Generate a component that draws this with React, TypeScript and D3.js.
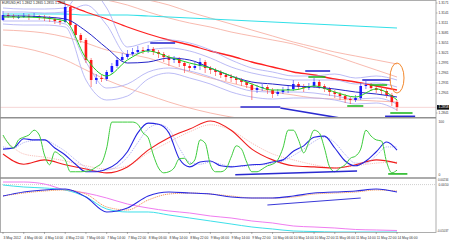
import * as d3 from "d3";

// ---------- data (EURUSD, 2-hour bars, 3 May - 14 May 2012) ----------
const TITLE = "EURUSD,H1  1.2862 1.2865 1.2855 1.2858";
const TIME_LABELS = [
  "3 May 2012", "4 May 06:00", "4 May 14:00", "4 May 22:00", "7 May 06:00",
  "7 May 14:00", "7 May 22:00", "8 May 06:00", "8 May 14:00", "8 May 22:00",
  "9 May 06:00", "9 May 14:00", "9 May 22:00", "10 May 06:00", "10 May 14:00",
  "10 May 22:00", "11 May 06:00", "11 May 14:00", "11 May 22:00", "14 May 06:00",
];
const PRICE_TICKS = [1.3171, 1.3141, 1.3111, 1.3081, 1.3051, 1.3021, 1.2991, 1.2961, 1.2931, 1.2901, 1.2841];
const LAST_PRICE = 1.2858;

const OPEN0 = 1.312;
const CLOSE = [
  1.3135, 1.3132, 1.3129, 1.3129, 1.3132, 1.3129, 1.3132, 1.3129, 1.3126, 1.3123,
  1.3117, 1.3114, 1.3159, 1.3105, 1.3075, 1.306, 1.3, 1.294, 1.2946, 1.2943,
  1.2964, 1.2982, 1.3, 1.3009, 1.3018, 1.3024, 1.303, 1.3027, 1.3033, 1.3024,
  1.3018, 1.3009, 1.3, 1.3003, 1.2991, 1.2982, 1.2976, 1.2982, 1.2994, 1.2976,
  1.297, 1.2964, 1.2955, 1.2949, 1.2946, 1.294, 1.2934, 1.2925, 1.291, 1.2916,
  1.2919, 1.291, 1.2898, 1.2904, 1.291, 1.2913, 1.2928, 1.2919, 1.2916, 1.2922,
  1.2934, 1.2922, 1.2913, 1.2904, 1.2898, 1.2892, 1.2883, 1.288, 1.2886, 1.2922,
  1.2925, 1.2916, 1.291, 1.2907, 1.2895, 1.2874, 1.2859,
];
const HIGH = [
  1.3147, 1.3141, 1.3138, 1.3135, 1.3141, 1.3138, 1.3141, 1.3135, 1.3135, 1.3132,
  1.3129, 1.3126, 1.3168, 1.3162, 1.3111, 1.3081, 1.3066, 1.3006, 1.2958, 1.2955,
  1.297, 1.2991, 1.3009, 1.3021, 1.303, 1.3036, 1.3042, 1.3039, 1.3045, 1.3039,
  1.303, 1.3024, 1.3015, 1.3012, 1.3009, 1.2997, 1.2988, 1.2994, 1.3006, 1.3,
  1.2982, 1.2976, 1.297, 1.2961, 1.2958, 1.2952, 1.2946, 1.294, 1.2931, 1.2925,
  1.2928, 1.2925, 1.2916, 1.2913, 1.2919, 1.2922, 1.294, 1.2934, 1.2928, 1.2931,
  1.2946, 1.294, 1.2928, 1.2919, 1.291, 1.2904, 1.2898, 1.2889, 1.2895, 1.2931,
  1.2937, 1.2931, 1.2922, 1.2916, 1.2913, 1.2901, 1.288,
];
const LOW = [
  1.3117, 1.3126, 1.3123, 1.3123, 1.3126, 1.312, 1.3126, 1.312, 1.3117, 1.3114,
  1.3108, 1.3105, 1.3111, 1.3099, 1.3066, 1.3051, 1.2991, 1.2919, 1.2928, 1.2934,
  1.2937, 1.2958, 1.2976, 1.2994, 1.3003, 1.3012, 1.3018, 1.3018, 1.3021, 1.3015,
  1.3006, 1.2994, 1.2982, 1.2991, 1.2979, 1.2961, 1.2967, 1.297, 1.297, 1.2961,
  1.2958, 1.2952, 1.2946, 1.2937, 1.2934, 1.2928, 1.2922, 1.2916, 1.288, 1.2901,
  1.2907, 1.2898, 1.2886, 1.2892, 1.2898, 1.2901, 1.2907, 1.291, 1.2904, 1.291,
  1.2916, 1.2913, 1.2904, 1.2892, 1.2886, 1.288, 1.2871, 1.2868, 1.2874, 1.288,
  1.2913, 1.2907, 1.2901, 1.2895, 1.2886, 1.2862, 1.2847,
];

// main-window indicators, one value per time label (every 4th bar)
const MA_FAST = [1.3129, 1.3129, 1.3126, 1.3117, 1.3006, 1.2952, 1.3, 1.3027, 1.3009, 1.2991, 1.2976, 1.2952, 1.2928, 1.291, 1.291, 1.2922, 1.2904, 1.2889, 1.2913, 1.288];
const MA_MID = [1.3132, 1.3132, 1.3129, 1.3123, 1.3087, 1.3036, 1.2991, 1.2994, 1.3006, 1.3, 1.2976, 1.2952, 1.2934, 1.2928, 1.2922, 1.2919, 1.2913, 1.2904, 1.2898, 1.2889];
const BB_UP2 = [1.3156, 1.3153, 1.3153, 1.3156, 1.3225, 1.3156, 1.3039, 1.3054, 1.306, 1.3051, 1.303, 1.3, 1.2976, 1.2964, 1.2952, 1.2952, 1.2958, 1.2946, 1.2952, 1.294];
const BB_UP1 = [1.3144, 1.3144, 1.3141, 1.3144, 1.3165, 1.3105, 1.3015, 1.303, 1.3036, 1.3027, 1.3006, 1.2979, 1.2961, 1.2949, 1.294, 1.294, 1.294, 1.2928, 1.2931, 1.2919];
const BB_LO1 = [1.3117, 1.3117, 1.3117, 1.3108, 1.2994, 1.2916, 1.2928, 1.2964, 1.2976, 1.2967, 1.2949, 1.2925, 1.2907, 1.2904, 1.2904, 1.2901, 1.2892, 1.2883, 1.2886, 1.2868];
const BB_LO2 = [1.3108, 1.3105, 1.3105, 1.3099, 1.294, 1.288, 1.2892, 1.2943, 1.2961, 1.2946, 1.2928, 1.2904, 1.2889, 1.2883, 1.2886, 1.2886, 1.288, 1.2868, 1.2871, 1.285];
const MA_SLOW = [1.3234, 1.3213, 1.3192, 1.3168, 1.3144, 1.3123, 1.3099, 1.3078, 1.306, 1.3045, 1.3027, 1.3012, 1.2994, 1.2979, 1.2964, 1.2955, 1.2943, 1.2934, 1.2922, 1.291];
const ENV_UP2 = [1.33, 1.3288, 1.3276, 1.3255, 1.3234, 1.321, 1.3192, 1.318, 1.3165, 1.3144, 1.3126, 1.3108, 1.309, 1.3072, 1.3054, 1.3039, 1.3024, 1.3012, 1.3, 1.2988];
const ENV_UP1 = [1.324, 1.3231, 1.3222, 1.321, 1.3195, 1.318, 1.3165, 1.3144, 1.3126, 1.3111, 1.3099, 1.3084, 1.3072, 1.306, 1.3048, 1.303, 1.3012, 1.2991, 1.297, 1.2949];
const ENV_LO1 = [1.309, 1.3087, 1.3081, 1.3069, 1.3051, 1.303, 1.3018, 1.3006, 1.2985, 1.2964, 1.2946, 1.2931, 1.2916, 1.2904, 1.2895, 1.2886, 1.2883, 1.288, 1.2877, 1.2874];
const ENV_LO2 = [1.3045, 1.3036, 1.3021, 1.3, 1.297, 1.294, 1.2916, 1.2895, 1.2874, 1.2856, 1.2841, 1.2829, 1.282, 1.2814, 1.2808, 1.2805, 1.2805, 1.2808, 1.2814, 1.282];
const LONG_MA = [1.3138, 1.3138, 1.3138, 1.3138, 1.3135, 1.3135, 1.3135, 1.3132, 1.3129, 1.3126, 1.3123, 1.312, 1.3117, 1.3114, 1.3111, 1.3108, 1.3105, 1.3102, 1.3099, 1.3096];

// drawn levels on the price window: [from bar, to bar, price from, price to]
const BLUE_LEVELS = [
  [28.4, 33.2, 1.3051, 1.3051], [58.3, 63.1, 1.2967, 1.2967], [69.3, 74.7, 1.294, 1.294],
  [45.8, 53.5, 1.2859, 1.2859], [53.5, 65, 1.2856, 1.2826], [73.7, 79.5, 1.2831, 1.2831],
];
const GREEN_LEVELS = [
  [58.9, 62.2, 1.2949, 1.2949], [70.8, 74.1, 1.2925, 1.2925], [66.4, 69.5, 1.2862, 1.2862], [74.7, 79, 1.2841, 1.2841],
];
const MARK = { bar: 76, price: 1.2946 };

// oscillator window (0..100)
const OSC_FAST = [
  74, 59, 50, 65, 70, 74, 83, 74, 37, 19, 43, 37, 28, 6, 6, 6, 7, 9, 15, 22,
  50, 98, 98, 98, 98, 98, 94, 78, 69, 37, 13, 4, 6, 13, 30, 31, 20, 28, 65, 59,
  19, 6, 6, 11, 33, 54, 48, 24, 6, 6, 11, 17, 20, 28, 50, 83, 83, 65, 41, 61,
  83, 78, 50, 15, 6, 13, 19, 31, 35, 48, 83, 72, 65, 63, 24, 4, 9,
];
const OSC_MAIN = [48, 50, 67, 65, 65, 50, 37, 20, 6, 6, 11, 22, 43, 78, 96, 94, 78, 30, 15, 24, 26, 17, 15, 17, 19, 20, 24, 28, 44, 54, 70, 72, 50, 26, 17, 26, 43, 61, 46];
const OSC_SIGNAL = [52, 50, 60, 64, 65, 56, 44, 28, 14, 8, 9, 16, 33, 60, 86, 94, 85, 50, 24, 20, 24, 20, 16, 16, 18, 19, 22, 26, 36, 48, 62, 70, 60, 38, 22, 22, 36, 52, 52];
const OSC_SLOW = [39, 20, 28, 19, 11, 4, 15, 46, 69, 85, 100, 83, 48, 28, 17, 15, 13, 19, 28, 22];
const OSC_SLOW_SIG = [70, 39, 33, 26, 17, 11, 17, 41, 61, 80, 93, 83, 59, 39, 28, 19, 13, 17, 22, 24];
const OSC_BLUE_LEVEL = [44.8, 68.3, 0.5, 7.4];
const OSC_GREEN_LEVEL = [74.3, 78, 2, 2];

// lower window
const MACD_MAIN = [-0.00174, -0.00078, -0.0003, -0.00006, -0.00198, -0.00557, -0.00461, -0.00174, -0.00078, -0.00102, -0.00126, -0.00198, -0.00222, -0.00222, -0.00174, -0.00102, -0.00078, -0.00054, -0.00006, -0.00078];
const MACD_SIGNAL = [-0.00174, -0.00102, -0.00054, -0.0003, -0.00126, -0.00437, -0.00509, -0.0027, -0.00126, -0.00102, -0.00126, -0.00174, -0.00222, -0.00222, -0.00198, -0.00126, -0.00102, -0.00078, -0.0003, -0.00054];
const TREND_A = [0.0009, 0.00042, 0.00018, -0.0003, -0.00198, -0.00485, -0.00557, -0.00557, -0.00629, -0.00701, -0.00773, -0.00845, -0.00917, -0.00965, -0.01013, -0.01025, -0.01037, -0.01037, -0.01037, -0.01037];
const TREND_B = [0.00162, 0.00162, 0.00114, -0.0003, -0.00102, -0.00222, -0.00366, -0.00461, -0.00533, -0.00581, -0.00653, -0.00701, -0.00773, -0.00821, -0.00893, -0.00917, -0.00941, -0.00977, -0.00989, -0.01001];
const MACD_LEVEL = 0.001;
const MACD_TICKS = [0.00234, -0.01037];
const MACD_BLUE_LEVEL = [51, 69, -0.00389, -0.00222];

// ---------- layout ----------
const W = 449;
const H = 241;
const RIGHT = 436;
const MAIN = { top: 1, bottom: 117 };
const OSC = { top: 119, bottom: 177 };
const LOW_W = { top: 179, bottom: 232 };
const FONT = "'Liberation Sans', Arial, sans-serif";
const FS = 3.3;

const BULL = "#1a1aff";
const BEAR = "#ff1a1a";

export default function App() {
  document.body.style.margin = "0";
  const x = d3.scaleLinear().domain([0, 76]).range([3, 397]);
  const yMain = d3.scaleLinear().domain([1.2829, 1.3177]).range([MAIN.bottom, MAIN.top]);
  const yOsc = d3.scaleLinear().domain([0, 100]).range([175, 121]);
  const yLow = d3.scaleLinear().domain([-0.01037, 0.00234]).range([LOW_W.bottom, LOW_W.top]);

  const path = (vals: number[], step: number, y: d3.ScaleLinear<number, number>) =>
    d3.line<number>().x((_d, i) => x(i * step)).y((d) => y(d)).curve(d3.curveMonotoneX)(vals) ?? "";

  const seg = (s: number[], y: d3.ScaleLinear<number, number>) => ({
    x1: x(s[0]), x2: x(s[1]), y1: y(s[2]), y2: y(s[3]),
  });

  const opens = CLOSE.map((_c, i) => (i === 0 ? OPEN0 : CLOSE[i - 1]));

  const mainLines: [number[], string, number][] = [
    [ENV_UP2, "#f6a89a", 0.8],
    [ENV_UP1, "#f6a89a", 0.8],
    [ENV_LO1, "#f6a89a", 0.8],
    [ENV_LO2, "#f6a89a", 0.8],
    [LONG_MA, "#33e0e8", 1.1],
    [MA_SLOW, "#ff2020", 1.3],
    [BB_UP2, "#a9a9f2", 0.8],
    [BB_UP1, "#a9a9f2", 0.8],
    [BB_LO1, "#a9a9f2", 0.8],
    [BB_LO2, "#a9a9f2", 0.8],
  ];

  return (
    <svg width={W} height={H} viewBox={`0 0 ${W} ${H}`} style={{ display: "block", background: "#fff" }} fontFamily={FONT}>
      <defs>
        <clipPath id="cMain"><rect x={0} y={MAIN.top} width={RIGHT} height={MAIN.bottom - MAIN.top} /></clipPath>
        <clipPath id="cOsc"><rect x={0} y={OSC.top} width={RIGHT} height={OSC.bottom - OSC.top} /></clipPath>
        <clipPath id="cLow"><rect x={0} y={LOW_W.top} width={RIGHT} height={LOW_W.bottom - LOW_W.top} /></clipPath>
      </defs>

      {/* main price window */}
      <g clipPath="url(#cMain)">
        <line x1={0} x2={RIGHT} y1={yMain(LAST_PRICE)} y2={yMain(LAST_PRICE)} stroke="#f2c4c4" strokeWidth={0.7} />
        {mainLines.map(([vals, color, w], i) => (
          <path key={i} d={path(vals, 4, yMain)} fill="none" stroke={color} strokeWidth={w} />
        ))}
        {CLOSE.map((c, i) => {
          const o = opens[i];
          const up = c >= o;
          const col = up ? BULL : BEAR;
          const top = yMain(Math.max(o, c));
          const bot = yMain(Math.min(o, c));
          return (
            <g key={i}>
              <line x1={x(i)} x2={x(i)} y1={yMain(HIGH[i])} y2={yMain(LOW[i])} stroke={col} strokeWidth={0.7} opacity={0.75} />
              <rect x={x(i) - 1.3} y={top} width={2.6} height={Math.max(0.8, bot - top)} fill={col} />
            </g>
          );
        })}
        <path d={path(MA_MID, 4, yMain)} fill="none" stroke="#2323c8" strokeWidth={1} />
        <path d={path(MA_FAST, 4, yMain)} fill="none" stroke="#1fcc1f" strokeWidth={1} />
        {BLUE_LEVELS.map((s, i) => (
          <line key={i} {...seg(s, yMain)} stroke="#2a2ad0" strokeWidth={1.6} />
        ))}
        {GREEN_LEVELS.map((s, i) => (
          <line key={i} {...seg(s, yMain)} stroke="#22b822" strokeWidth={1.6} />
        ))}
        <ellipse cx={x(MARK.bar)} cy={yMain(MARK.price)} rx={7} ry={15} fill="none" stroke="#f3892e" strokeWidth={1} />
      </g>
      <text x={2} y={4.2} fontSize={FS} fill="#222">{TITLE}</text>

      {/* oscillator window */}
      <g clipPath="url(#cOsc)">
        <path d={path(OSC_SLOW_SIG, 4, yOsc)} fill="none" stroke="#f5b0a8" strokeWidth={0.8} strokeDasharray="1.2,1" />
        <path d={path(OSC_SLOW, 4, yOsc)} fill="none" stroke="#f01c1c" strokeWidth={1.1} />
        <path d={path(OSC_SIGNAL, 2, yOsc)} fill="none" stroke="#a0a0f0" strokeWidth={0.8} strokeDasharray="1.2,1" />
        <path d={path(OSC_MAIN, 2, yOsc)} fill="none" stroke="#2424e0" strokeWidth={1.1} />
        <path d={path(OSC_FAST, 1, yOsc)} fill="none" stroke="#3ccc3c" strokeWidth={1} />
        <line {...seg(OSC_BLUE_LEVEL, yOsc)} stroke="#2a2ad0" strokeWidth={1.4} />
        <line {...seg(OSC_GREEN_LEVEL, yOsc)} stroke="#22b822" strokeWidth={1.6} />
      </g>

      {/* lower window */}
      <g clipPath="url(#cLow)">
        <line x1={0} x2={RIGHT} y1={yLow(MACD_LEVEL)} y2={yLow(MACD_LEVEL)} stroke="#b0b0b0" strokeWidth={0.6} strokeDasharray="1,1" />
        <path d={path(TREND_B, 4, yLow)} fill="none" stroke="#f07cf0" strokeWidth={1} />
        <path d={path(TREND_A, 4, yLow)} fill="none" stroke="#3ee0ea" strokeWidth={1} />
        <path d={path(MACD_SIGNAL, 4, yLow)} fill="none" stroke="#f09050" strokeWidth={0.9} strokeDasharray="1.2,0.8" />
        <path d={path(MACD_MAIN, 4, yLow)} fill="none" stroke="#2a2ae0" strokeWidth={1.1} />
        <line {...seg(MACD_BLUE_LEVEL, yLow)} stroke="#3a3ad8" strokeWidth={1.2} />
      </g>

      {/* frame & separators */}
      <rect x={0.5} y={0.5} width={RIGHT - 0.5} height={LOW_W.bottom} fill="none" stroke="#9a9a9a" strokeWidth={0.8} />
      <line x1={0} x2={RIGHT} y1={117.8} y2={117.8} stroke="#909090" strokeWidth={1.6} />
      <line x1={0} x2={RIGHT} y1={178} y2={178} stroke="#909090" strokeWidth={1.6} />

      {/* price axis */}
      {PRICE_TICKS.map((t) => (
        <g key={t}>
          <line x1={RIGHT} x2={RIGHT + 1.5} y1={yMain(t)} y2={yMain(t)} stroke="#777" strokeWidth={0.5} />
          <text x={RIGHT + 2.5} y={yMain(t) + 1.1} fontSize={FS} fill="#333">{t.toFixed(4)}</text>
        </g>
      ))}
      <rect x={RIGHT + 1} y={yMain(LAST_PRICE) - 2.3} width={W - RIGHT - 1} height={4.6} fill="#111" />
      <text x={RIGHT + 2.5} y={yMain(LAST_PRICE) + 1.1} fontSize={FS} fill="#fff">{LAST_PRICE.toFixed(4)}</text>

      <text x={RIGHT + 2.5} y={yOsc(100) + 1.5} fontSize={FS} fill="#333">100</text>
      <text x={RIGHT + 2.5} y={yOsc(0) + 0.5} fontSize={FS} fill="#333">0</text>
      {MACD_TICKS.map((t, i) => (
        <text key={t} x={W - 0.6} y={yLow(t) + (i === 0 ? 2.2 : -0.3)} fontSize={2.9} fill="#333" textAnchor="end">{t.toFixed(5)}</text>
      ))}
      <text x={RIGHT + 2.5} y={yLow(MACD_LEVEL) + 1.1} fontSize={FS} fill="#333">{MACD_LEVEL.toFixed(4)}</text>

      {/* time axis */}
      {TIME_LABELS.map((t, k) => (
        <g key={t}>
          <line x1={x(k * 4)} x2={x(k * 4)} y1={LOW_W.bottom} y2={LOW_W.bottom + 2} stroke="#666" strokeWidth={0.5} />
          <text x={x(k * 4) + 0.5} y={238.5} fontSize={FS} fill="#333">{t}</text>
        </g>
      ))}
    </svg>
  );
}
